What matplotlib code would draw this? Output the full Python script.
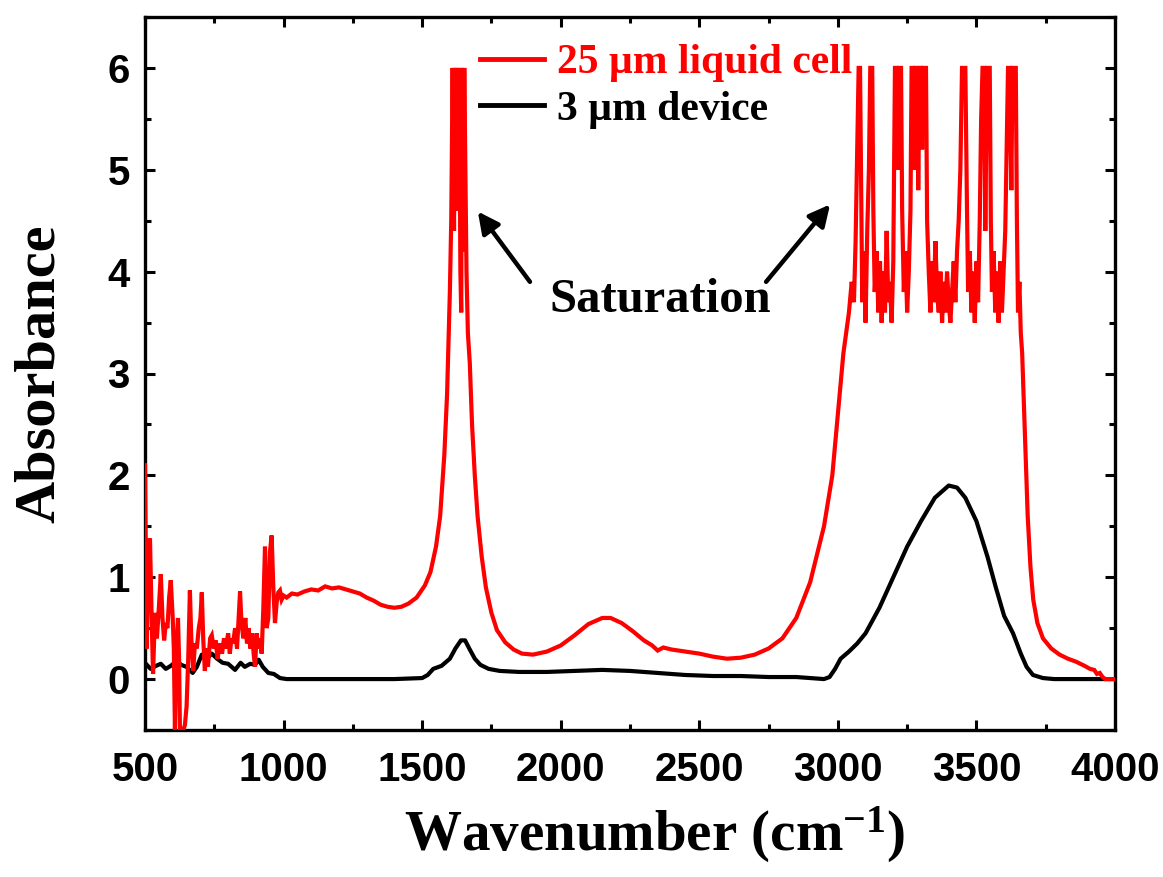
import matplotlib
matplotlib.use("Agg")
import matplotlib.pyplot as plt
from matplotlib.ticker import MultipleLocator

# ---- spectra (wavenumber in cm^-1, absorbance) ----
cell_wn = [
    500, 506, 512, 518, 524, 529, 536, 543, 550, 557, 563, 569, 575, 581, 587,
    593, 600, 604, 608, 612, 619, 623, 626, 632, 638, 644, 650, 656, 662, 667,
    674, 680, 687, 694, 700, 705, 710, 716, 722, 727, 735, 741, 748, 755, 762,
    770, 778, 785, 792, 800, 806, 812, 818, 825, 832, 838, 843, 848, 855, 862,
    868, 874, 880, 886, 892, 897, 903, 909, 915, 921, 927, 933, 939, 945, 951,
    957, 963, 969, 975, 981, 987, 993, 1000, 1011, 1030, 1050, 1075, 1100, 1125,
    1150, 1175, 1200, 1225, 1250, 1275, 1300, 1325, 1350, 1375, 1400, 1425, 1450,
    1480, 1510, 1530, 1550, 1565, 1580, 1590, 1600, 1605, 1610, 1615, 1618, 1622,
    1626, 1630, 1634, 1638, 1641, 1644, 1648, 1652, 1656, 1660, 1665, 1672, 1680,
    1690, 1700, 1715, 1730, 1750, 1770, 1800, 1830, 1860, 1900, 1950, 2000, 2050,
    2100, 2150, 2180, 2220, 2260, 2300, 2330, 2350, 2370, 2400, 2450, 2500, 2550,
    2600, 2650, 2700, 2750, 2800, 2850, 2900, 2950, 2980, 3000, 3020, 3040, 3050,
    3058, 3064, 3070, 3075, 3080, 3084, 3088, 3094, 3100, 3106, 3112, 3117, 3124,
    3128, 3133, 3140, 3146, 3152, 3158, 3164, 3170, 3176, 3182, 3188, 3194, 3200,
    3206, 3212, 3217, 3222, 3228, 3232, 3238, 3244, 3250, 3256, 3262, 3266, 3272,
    3276, 3280, 3286, 3290, 3295, 3300, 3304, 3308, 3314, 3318, 3322, 3328, 3334,
    3340, 3346, 3352, 3358, 3364, 3370, 3376, 3382, 3388, 3394, 3400, 3406, 3412,
    3418, 3424, 3430, 3436, 3442, 3448, 3454, 3460, 3466, 3470, 3476, 3482, 3488,
    3494, 3500, 3506, 3512, 3517, 3522, 3528, 3532, 3538, 3544, 3548, 3552, 3556,
    3562, 3568, 3574, 3580, 3586, 3592, 3598, 3604, 3610, 3614, 3620, 3626, 3630,
    3636, 3642, 3646, 3650, 3655, 3660, 3665, 3675, 3685, 3695, 3705, 3720, 3740,
    3770, 3800, 3830, 3860, 3890, 3910, 3925, 3935, 3945, 3955, 3965, 4000,
]
cell_abs = [
    2.10, 0.30, 1.20, 1.38, 0.60, 0.05, 0.65, 0.40, 0.70, 1.03, 0.60, 0.38, 0.55, 0.50, 0.80,
    0.97, 0.60, 0.30, -0.50, 0.20, 0.60, 0.20, -0.50, -0.50, -0.50, -0.45, -0.27, 0.20, 0.87, 0.40,
    0.08, 0.35, 0.30, 0.50, 0.60, 0.85, 0.40, 0.08, 0.30, 0.12, 0.40, 0.43, 0.30, 0.38, 0.20,
    0.35, 0.25, 0.40, 0.30, 0.45, 0.25, 0.40, 0.35, 0.50, 0.30, 0.60, 0.86, 0.55, 0.40, 0.60,
    0.35, 0.50, 0.30, 0.45, 0.25, 0.12, 0.45, 0.30, 0.40, 0.25, 0.70, 1.30, 0.50, 0.60, 1.25,
    1.41, 0.90, 0.55, 0.75, 0.85, 0.87, 0.78, 0.82, 0.80, 0.84, 0.83, 0.86, 0.88, 0.87,
    0.91, 0.89, 0.90, 0.88, 0.86, 0.84, 0.80, 0.77, 0.73, 0.71, 0.70, 0.71, 0.74,
    0.80, 0.92, 1.05, 1.30, 1.60, 2.20, 2.80, 3.80, 4.50, 6.00, 4.40, 6.00, 5.00,
    6.00, 4.60, 6.00, 4.00, 3.60, 6.00, 4.20, 6.00, 5.00, 4.00, 3.40, 3.10, 2.50,
    2.00, 1.60, 1.20, 0.90, 0.65, 0.48, 0.36, 0.29, 0.25, 0.24, 0.27, 0.33, 0.43,
    0.54, 0.60, 0.60, 0.55, 0.47, 0.38, 0.33, 0.28, 0.31, 0.29, 0.27, 0.25, 0.22,
    0.20, 0.21, 0.24, 0.30, 0.40, 0.60, 0.95, 1.50, 2.00, 2.60, 3.20, 3.60, 3.90,
    3.70, 4.30, 5.20, 6.00, 6.00, 4.80, 3.70, 4.20, 3.50, 4.40, 5.00, 6.00, 6.00,
    4.60, 3.80, 4.20, 3.60, 4.10, 3.50, 4.00, 3.60, 4.40, 3.70, 3.90, 3.50, 4.10,
    6.00, 6.00, 5.00, 6.00, 6.00, 4.60, 3.80, 4.20, 3.60, 4.00, 4.60, 6.00, 6.00,
    5.00, 6.00, 6.00, 4.80, 6.00, 6.00, 5.20, 6.00, 6.00, 6.00, 4.50, 4.00, 3.60,
    4.10, 3.70, 4.30, 3.80, 3.60, 4.00, 3.50, 3.90, 3.60, 4.00, 3.70, 3.50, 3.80,
    4.10, 3.70, 4.20, 4.50, 5.00, 6.00, 6.00, 6.00, 4.60, 3.80, 4.20, 3.60, 4.00,
    3.50, 4.10, 3.70, 4.50, 5.50, 6.00, 6.00, 4.40, 6.00, 6.00, 6.00, 4.50, 3.80,
    4.20, 3.60, 4.00, 3.50, 4.10, 3.60, 4.00, 4.40, 5.40, 6.00, 6.00, 4.80, 6.00,
    6.00, 6.00, 4.50, 3.60, 3.90, 3.40, 3.20, 2.40, 1.60, 1.10, 0.78, 0.55, 0.40,
    0.30, 0.24, 0.20, 0.17, 0.13, 0.10, 0.09, 0.05, 0.06, 0.02, 0.00, 0.00,
]

device_wn = [
    500, 520, 540, 557, 575, 593, 615, 630, 650, 672, 687, 705, 720, 741, 760,
    780, 800, 825, 845, 860, 880, 897, 910, 925, 945, 965, 987, 1011, 1200, 1400,
    1500, 1520, 1540, 1570, 1600, 1620, 1640, 1655, 1670, 1690, 1710, 1740, 1780,
    1850, 1950, 2050, 2150, 2250, 2350, 2450, 2550, 2650, 2750, 2850, 2950, 2970,
    2990, 3010, 3040, 3070, 3100, 3150, 3200, 3250, 3300, 3350, 3400, 3430, 3460,
    3500, 3540, 3570, 3600, 3632, 3660, 3681, 3704, 3740, 3780, 4000,
]
device_abs = [
    0.16, 0.10, 0.13, 0.15, 0.10, 0.13, 0.18, 0.14, 0.12, 0.06, 0.12, 0.24, 0.19, 0.25, 0.20,
    0.16, 0.15, 0.09, 0.16, 0.12, 0.15, 0.14, 0.19, 0.12, 0.06, 0.05, 0.01, 0.00, 0.00, 0.00,
    0.01, 0.04, 0.10, 0.13, 0.20, 0.30, 0.38, 0.38, 0.30, 0.20, 0.14, 0.10, 0.08,
    0.07, 0.07, 0.08, 0.09, 0.08, 0.06, 0.04, 0.03, 0.03, 0.02, 0.02, 0.00, 0.02,
    0.10, 0.20, 0.27, 0.35, 0.45, 0.70, 1.00, 1.30, 1.55, 1.78, 1.90, 1.88, 1.78,
    1.55, 1.20, 0.90, 0.62, 0.45, 0.25, 0.12, 0.04, 0.01, 0.00, 0.00,
]

series_labels = ["25 \u00b5m liquid cell", "3 \u00b5m device"]
series_colors = ["#ff0000", "#000000"]

x_ticks = [500, 1000, 1500, 2000, 2500, 3000, 3500, 4000]
y_ticks = [0, 1, 2, 3, 4, 5, 6]

plt.rcParams["mathtext.fontset"] = "custom"
plt.rcParams["mathtext.rm"] = "Liberation Serif:bold"
plt.rcParams["mathtext.bf"] = "Liberation Serif:bold"
plt.rcParams["mathtext.it"] = "Liberation Serif:bold"

fig = plt.figure(figsize=(11.63, 8.77), dpi=100)
ax = fig.add_axes([145 / 1163, 1 - 730 / 877, 970 / 1163, 713 / 877])

dev_line, = ax.plot(device_wn, device_abs, color=series_colors[1], lw=3.0,
                    label=series_labels[1], zorder=2, solid_joinstyle="round")
cell_line, = ax.plot(cell_wn, cell_abs, color=series_colors[0], lw=3.0,
                     label=series_labels[0], zorder=3, solid_joinstyle="miter")

ax.set_xlim(500, 4000)
ax.set_ylim(-0.5, 6.5)
ax.set_xticks(x_ticks)
ax.set_yticks(y_ticks)
ax.xaxis.set_minor_locator(MultipleLocator(250))
ax.yaxis.set_minor_locator(MultipleLocator(0.5))

for s in ax.spines.values():
    s.set_linewidth(2.4)
ax.tick_params(which="both", direction="in", top=True, right=True, width=2.2)
ax.tick_params(which="major", length=7)
ax.tick_params(which="minor", length=4.5)
ax.tick_params(axis="x", which="major", pad=15)
ax.tick_params(axis="y", which="major", pad=11)
for lab in ax.get_xticklabels() + ax.get_yticklabels():
    lab.set_fontfamily("Liberation Sans")
    lab.set_fontweight("bold")
    lab.set_fontsize(29)

ax.set_xlabel("Wavenumber (cm$^{-1}$)", fontfamily="Liberation Serif",
              fontweight="bold", fontsize=41)
ax.xaxis.set_label_coords(0.525, -0.105)
ax.set_ylabel("Absorbance", fontfamily="Liberation Serif",
              fontweight="bold", fontsize=42)
ax.yaxis.set_label_coords(-0.082, 0.5)

leg = ax.legend(handles=[cell_line, dev_line], loc="upper left",
                bbox_to_anchor=(0.345, 0.962), frameon=False,
                prop={"family": "Liberation Serif", "weight": "bold", "size": 30},
                handlelength=1.55, handletextpad=0.3, labelspacing=0.2,
                borderpad=0, borderaxespad=0, labelcolor="linecolor")
for h in leg.legend_handles:
    h.set_linewidth(3.5)

ax.text(2358, 3.72, "Saturation", fontfamily="Liberation Serif",
        fontweight="bold", fontsize=35, ha="center", va="center")
arrow_kw = dict(arrowstyle="-|>", lw=3.2, color="black", mutation_scale=32,
                shrinkA=0, shrinkB=0)
ax.annotate("", xy=(1701, 4.59), xytext=(1889, 3.9), arrowprops=arrow_kw)
ax.annotate("", xy=(2972, 4.66), xytext=(2741, 3.9), arrowprops=arrow_kw)

fig.savefig("out.png", dpi=100)
